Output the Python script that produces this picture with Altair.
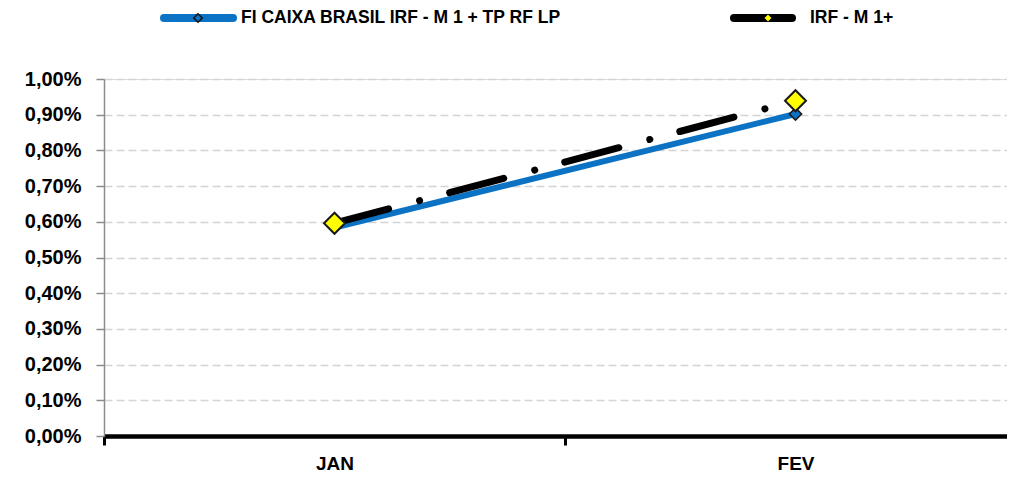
import altair as alt
import pandas as pd

months = ["JAN", "FEV"]
fund_name = "FI CAIXA BRASIL IRF - M 1 + TP RF LP"
index_name = "IRF - M 1+"
fund_values = [0.584, 0.902]
index_values = [0.596, 0.939]
y_ticks = [0.0, 0.1, 0.2, 0.3, 0.4, 0.5, 0.6, 0.7, 0.8, 0.9, 1.0]

FONT = "Liberation Sans, Arial, sans-serif"
BLUE = "#0B72C4"

fund_df = pd.DataFrame({"mes": months, "valor": fund_values, "serie": fund_name})
index_df = pd.DataFrame({"mes": months, "valor": index_values, "serie": index_name})

x_enc = alt.X(
    "mes:N",
    sort=months,
    bandPosition=0.5,
    scale=alt.Scale(type="band", paddingInner=0, paddingOuter=0, range=[0, 922]),
    axis=alt.Axis(
        title=None, tickBand="extent", labelAngle=0,
        domainColor="black", domainWidth=4.5,
        tickColor="black", tickWidth=3, tickSize=9,
        labelFont=FONT, labelFontSize=19, labelFontWeight="bold",
        labelColor="black", labelPadding=9, grid=False,
    ),
)
y_enc = alt.Y(
    "valor:Q",
    scale=alt.Scale(domain=[0, 1.0], nice=False),
    axis=alt.Axis(
        title=None, values=y_ticks,
        labelExpr="replace(format(datum.value, '.2f'), '.', ',') + '%'",
        domainColor="#8C8C8C", domainWidth=1.5,
        tickColor="#8C8C8C", tickWidth=1.5, tickSize=8,
        labelFont=FONT, labelFontSize=20, labelFontWeight="bold",
        labelColor="black", labelPadding=15,
        grid=True, gridColor="#D4D4D4", gridDash=[8, 4], gridWidth=1.5,
    ),
)

fund_line = alt.Chart(fund_df).mark_line(
    color=BLUE, strokeWidth=6, strokeCap="butt"
).encode(x=x_enc, y=y_enc)
fund_pts = alt.Chart(fund_df).mark_point(
    shape="diamond", filled=True, fill=BLUE, stroke="#1a1a1a", strokeWidth=1.5,
    size=150, opacity=1
).encode(x=x_enc, y=y_enc)
index_line = alt.Chart(index_df).mark_line(
    color="black", strokeWidth=7, strokeCap="round", strokeDash=[56, 32, 0.1, 31]
).encode(x=x_enc, y=y_enc)
index_pts = alt.Chart(index_df).mark_point(
    shape="diamond", filled=True, fill="#FFFF00", stroke="#1a1a1a", strokeWidth=2,
    size=440, opacity=1
).encode(x=x_enc, y=y_enc)

one = pd.DataFrame({"k": [0]})
LY = -61
leg = [
    alt.Chart(one).mark_rule(color=BLUE, strokeWidth=8, strokeCap="round").encode(
        x=alt.value(60), x2=alt.value(129), y=alt.value(LY)),
    alt.Chart(one).mark_point(shape="diamond", filled=True, fill=BLUE, stroke="#111",
                              strokeWidth=1.5, size=70, opacity=1).encode(
        x=alt.value(94), y=alt.value(LY)),
    alt.Chart(one).mark_text(text=fund_name, align="left", baseline="middle", font=FONT,
                             fontSize=17.5, fontWeight="bold", color="black").encode(
        x=alt.value(137), y=alt.value(LY)),
    alt.Chart(one).mark_rule(color="black", strokeWidth=8, strokeCap="round").encode(
        x=alt.value(630), x2=alt.value(688), y=alt.value(LY)),
    alt.Chart(one).mark_point(shape="diamond", filled=True, fill="#FFFF00", stroke="#111",
                              strokeWidth=1, size=60, opacity=1).encode(
        x=alt.value(664), y=alt.value(LY)),
    alt.Chart(one).mark_text(text=index_name, align="left", baseline="middle", font=FONT,
                             fontSize=17.5, fontWeight="bold", color="black").encode(
        x=alt.value(706), y=alt.value(LY)),
]

chart = alt.layer(fund_line, fund_pts, index_line, index_pts, *leg).properties(
    width=903, height=357,
    autosize=alt.AutoSizeParams(type="none"),
    padding={"left": 96, "top": 71, "right": 0, "bottom": 37},
).configure_view(stroke=None).configure(background="white")

chart.save("out.html", embed_options={"renderer": "svg", "actions": False})
